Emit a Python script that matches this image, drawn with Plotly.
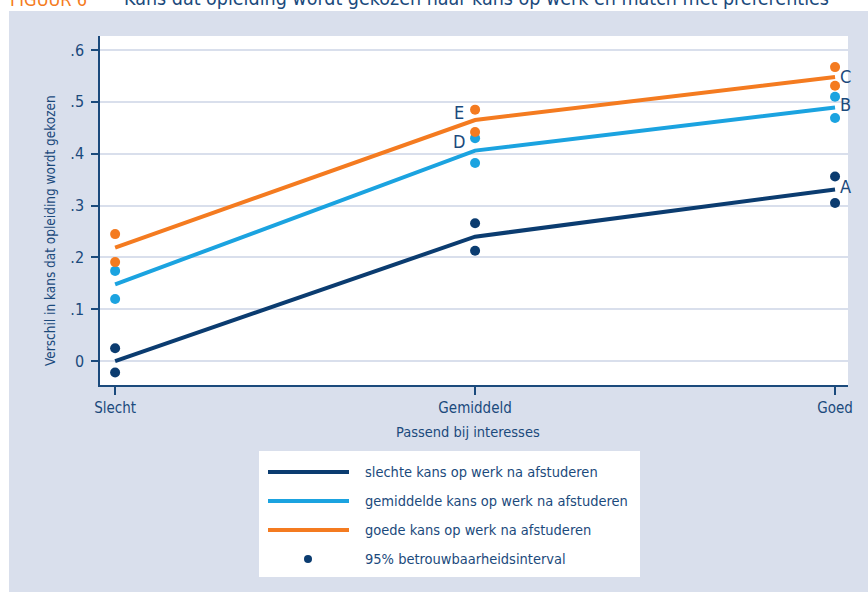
import plotly.graph_objects as go

# ---------------- data ----------------
categories = ["Slecht", "Gemiddeld", "Goed"]
x_pos = [0, 1, 2]

slecht_est = [0.000, 0.240, 0.331]
slecht_lo = [-0.022, 0.213, 0.305]
slecht_hi = [0.025, 0.266, 0.356]

gemiddeld_est = [0.148, 0.406, 0.489]
gemiddeld_lo = [0.120, 0.382, 0.469]
gemiddeld_hi = [0.174, 0.430, 0.510]

goed_est = [0.219, 0.465, 0.548]
goed_lo = [0.191, 0.442, 0.531]
goed_hi = [0.245, 0.485, 0.567]

y_ticks = [0, 0.1, 0.2, 0.3, 0.4, 0.5, 0.6]
y_ticktext = ["0", ".1", ".2", ".3", ".4", ".5", ".6"]

series_names = [
    "slechte kans op werk na afstuderen",
    "gemiddelde kans op werk na afstuderen",
    "goede kans op werk na afstuderen",
]
ci_name = "95% betrouwbaarheidsinterval"
title_prefix = "FIGUUR 6"
title_text = "Kans dat opleiding wordt gekozen naar kans op werk en match met preferenties"
y_title = "Verschil in kans dat opleiding wordt gekozen"
x_title = "Passend bij interesses"

# ---------------- style ----------------
NAVY = "#0b3c70"
LBLUE = "#1ba3e0"
ORANGE = "#f47b20"
TXT = "#1b4a7c"
BG = "#d9dfec"
FONT = "Liberation Sans Narrow, DejaVu Sans Condensed, Roboto, sans-serif"

W, H = 868, 592
L, R, T, B = 100, 848, 36, 385  # plot area in px


def px(xp):
    return (xp - L) / (R - L)


def py(yp):
    return (B - yp) / (B - T)


fig = go.Figure()

colors = [NAVY, LBLUE, ORANGE]
ests = [slecht_est, gemiddeld_est, goed_est]
los = [slecht_lo, gemiddeld_lo, goed_lo]
his = [slecht_hi, gemiddeld_hi, goed_hi]

for name, c, e in zip(series_names, colors, ests):
    fig.add_trace(go.Scatter(x=x_pos, y=e, mode="lines", name=name,
                             line=dict(color=c, width=4), showlegend=False))
for c, lo, hi in zip(colors, los, his):
    fig.add_trace(go.Scatter(x=x_pos + x_pos, y=lo + hi, mode="markers",
                             marker=dict(color=c, size=10), showlegend=False,
                             name=ci_name))

annotations = []
# point labels
labels = [("E", 1, goed_est[1], -16, 8), ("D", 1, gemiddeld_est[1], -16, 9),
          ("C", 2, goed_est[2], 10, 0), ("B", 2, gemiddeld_est[2], 10, 3),
          ("A", 2, slecht_est[2], 10, 3)]
for t, xv, yv, xs, ys in labels:
    annotations.append(dict(x=xv, y=yv, xref="x", yref="y", text=t, showarrow=False,
                            xshift=xs, yshift=ys, font=dict(family=FONT, size=18, color=TXT)))

# titles
annotations.append(dict(x=px(8), y=py(12), xref="paper", yref="paper", text=title_prefix,
                        xanchor="left", yanchor="bottom", showarrow=False,
                        font=dict(family=FONT, size=18, color=ORANGE)))
annotations.append(dict(x=px(122), y=py(12), xref="paper", yref="paper", text=title_text,
                        xanchor="left", yanchor="bottom", showarrow=False,
                        font=dict(family=FONT, size=19.5, color=TXT)))
annotations.append(dict(x=px(50), y=py(231), xref="paper", yref="paper", text=y_title,
                        textangle=-90, showarrow=False, xanchor="center", yanchor="middle",
                        font=dict(family=FONT, size=13.5, color=TXT)))
annotations.append(dict(x=px(468), y=py(432), xref="paper", yref="paper", text=x_title,
                        showarrow=False, xanchor="center", yanchor="middle",
                        font=dict(family=FONT, size=14.5, color=TXT)))

shapes = [
    # white top strip and left strip
    dict(type="rect", xref="paper", yref="paper", x0=px(-5), x1=px(W + 5), y0=py(11), y1=py(-5),
         fillcolor="white", line=dict(width=0), layer="below"),
    dict(type="rect", xref="paper", yref="paper", x0=px(-5), x1=px(9), y0=py(H + 5), y1=py(-5),
         fillcolor="white", line=dict(width=0), layer="below"),
    # legend box
    dict(type="rect", xref="paper", yref="paper", x0=px(259), x1=px(640), y0=py(577), y1=py(451),
         fillcolor="white", line=dict(width=0), layer="below"),
]

row_y = [472, 501, 530, 559]
for c, ry, name in zip(colors, row_y[:3], series_names):
    shapes.append(dict(type="line", xref="paper", yref="paper", x0=px(268), x1=px(349),
                       y0=py(ry), y1=py(ry), line=dict(color=c, width=4)))
    annotations.append(dict(x=px(363), y=py(ry), xref="paper", yref="paper", text=name,
                            xanchor="left", yanchor="middle", showarrow=False,
                            font=dict(family=FONT, size=14.5, color=TXT)))
shapes.append(dict(type="circle", xref="paper", yref="paper", x0=px(304), x1=px(312),
                   y0=py(row_y[3] + 4), y1=py(row_y[3] - 4),
                   fillcolor=NAVY, line=dict(width=0)))
annotations.append(dict(x=px(363), y=py(row_y[3]), xref="paper", yref="paper", text=ci_name,
                        xanchor="left", yanchor="middle", showarrow=False,
                        font=dict(family=FONT, size=14.5, color=TXT)))

fig.update_layout(
    width=W, height=H,
    margin=dict(l=L, r=W - R, t=T, b=H - B, pad=0),
    paper_bgcolor=BG, plot_bgcolor="white",
    showlegend=False,
    annotations=annotations, shapes=shapes,
    font=dict(family=FONT, size=15, color=TXT),
)
fig.update_xaxes(range=[-0.042, 2.036], tickvals=x_pos, ticktext=categories,
                 showgrid=False, zeroline=False, showline=True, linecolor=TXT, linewidth=1.5,
                 ticks="outside", ticklen=8, tickcolor=TXT, tickwidth=1.5,
                 tickfont=dict(family=FONT, size=15, color=TXT))
fig.update_yaxes(range=[-0.046, 0.627], tickvals=y_ticks, ticktext=y_ticktext,
                 showgrid=True, gridcolor=BG, gridwidth=2, zeroline=False,
                 showline=True, linecolor=TXT, linewidth=1.5,
                 ticks="outside", ticklen=7, tickcolor=TXT, tickwidth=1.5,
                 ticklabelstandoff=4,
                 tickfont=dict(family=FONT, size=16, color=TXT))

fig.write_html("out.html", config={"displayModeBar": False},
               post_script="document.body.style.margin='0';")
